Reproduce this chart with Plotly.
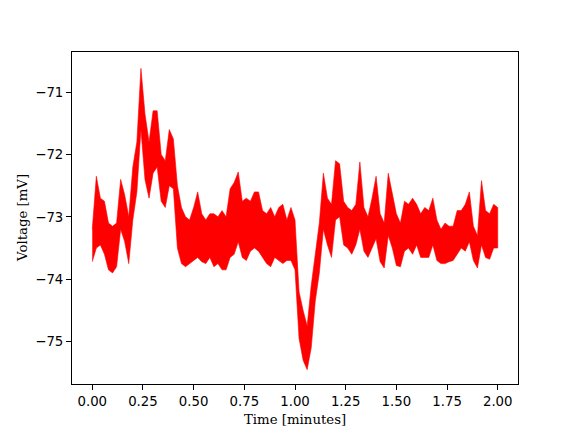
import plotly.graph_objects as go

# Time samples (minutes), step 0.02
time_min = [round(i * 0.02, 2) for i in range(101)]

# Upper envelope of the voltage trace (mV)
v_upper = [
    -73.20, -72.35, -72.70, -72.75, -73.10, -73.15, -73.10, -72.40, -72.65, -73.00,
    -72.20, -71.80, -70.62, -71.35, -71.80, -71.30, -71.30, -72.00, -72.10, -71.60,
    -71.75, -72.50, -72.85, -73.00, -73.05, -72.85, -72.60, -72.95, -73.05, -72.95,
    -72.95, -73.00, -72.90, -73.00, -72.55, -72.45, -72.28, -72.75, -72.70, -72.75,
    -72.60, -72.60, -72.90, -72.95, -72.85, -73.00, -72.85, -72.80, -73.05, -72.85,
    -73.05, -74.20, -74.50, -74.75, -74.10, -73.55, -73.10, -72.30, -72.70, -72.80,
    -72.10, -72.15, -72.75, -72.85, -72.90, -72.80, -72.12, -72.85, -73.00, -72.70,
    -72.35, -72.95, -73.10, -72.30, -72.65, -72.95, -73.10, -72.75, -72.80, -72.70,
    -72.80, -72.95, -72.85, -72.90, -72.70, -73.05, -73.20, -73.10, -73.15, -73.15,
    -72.90, -72.90, -72.80, -72.60, -73.15, -73.30, -72.42, -72.90, -72.95, -72.80,
    -72.85,
]

# Lower envelope of the voltage trace (mV)
v_lower = [
    -73.72, -73.50, -73.45, -73.60, -73.85, -73.90, -73.80, -73.20, -73.40, -73.75,
    -73.05, -72.60, -71.60, -72.40, -72.70, -72.30, -72.20, -72.75, -72.85, -72.50,
    -72.55, -73.50, -73.75, -73.80, -73.75, -73.70, -73.65, -73.72, -73.75, -73.65,
    -73.80, -73.75, -73.85, -73.85, -73.65, -73.60, -73.40, -73.65, -73.70, -73.55,
    -73.50, -73.55, -73.65, -73.75, -73.80, -73.65, -73.70, -73.75, -73.70, -73.70,
    -73.85, -74.95, -75.30, -75.45, -75.10, -74.35, -73.90, -73.20, -73.45, -73.65,
    -73.05, -73.00, -73.45, -73.50, -73.60, -73.45, -73.20, -73.55, -73.65, -73.50,
    -73.35, -73.72, -73.82, -73.30, -73.50, -73.78, -73.80, -73.55, -73.50, -73.60,
    -73.45, -73.65, -73.65, -73.65, -73.45, -73.70, -73.75, -73.75, -73.72, -73.70,
    -73.60, -73.50, -73.55, -73.40, -73.70, -73.82, -73.45, -73.65, -73.68, -73.50,
    -73.50,
]

x_ticks = [0.0, 0.25, 0.5, 0.75, 1.0, 1.25, 1.5, 1.75, 2.0]
y_ticks = [-75, -74, -73, -72, -71]
y_tick_text = ["\u221275", "\u221274", "\u221273", "\u221272", "\u221271"]

poly_x = time_min + time_min[::-1]
poly_y = v_upper + v_lower[::-1]

fig = go.Figure()
fig.add_trace(go.Scatter(
    x=poly_x, y=poly_y, mode="lines", fill="toself",
    fillcolor="red", line=dict(color="red", width=0.6),
    hoverinfo="skip", showlegend=False,
))

axis_common = dict(
    showline=True, linecolor="black", linewidth=1, mirror=True,
    ticks="outside", ticklen=5, tickwidth=1, tickcolor="black",
    showgrid=False, zeroline=False, automargin=False,
    tickfont=dict(family="DejaVu Sans", size=13.3, color="black"),
)

title_font = dict(family="DejaVu Serif", size=13.3, color="black")

# page body has an 8px margin, so the figure is offset by 8px; margins compensate
fig.update_layout(
    width=568, height=424,
    margin=dict(l=64, r=58, t=44, b=48, pad=0),
    paper_bgcolor="white", plot_bgcolor="white",
    xaxis=dict(range=[-0.1, 2.1], tickvals=x_ticks, tickformat=".2f", **axis_common),
    yaxis=dict(range=[-75.68, -70.357], tickvals=y_ticks, ticktext=y_tick_text,
               **axis_common),
    annotations=[
        dict(text="Time [minutes]", xref="paper", yref="paper", x=0.5, y=0,
             xanchor="center", yanchor="middle", yshift=-35, showarrow=False,
             font=title_font),
        dict(text="Voltage [mV]", xref="paper", yref="paper", x=0, y=0.5,
             xanchor="center", yanchor="middle", xshift=-50, textangle=-90,
             showarrow=False, font=title_font),
    ],
)

fig.write_html("out.html")
